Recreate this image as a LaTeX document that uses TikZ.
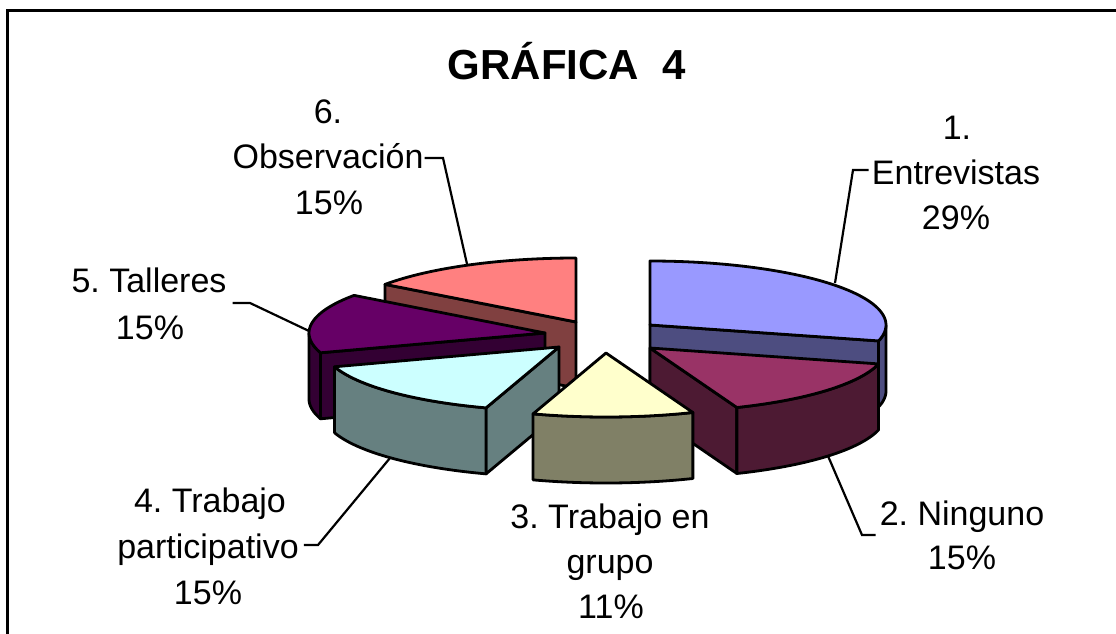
\documentclass[tikz,border=0pt]{standalone}
\usepackage{fontspec}
\setmainfont{Liberation Sans}
\usetikzlibrary{calc}
\frenchspacing
\definecolor{blueTop}{HTML}{9999FF}
\definecolor{blueSide}{HTML}{4D4D80}
\definecolor{marTop}{HTML}{993366}
\definecolor{marSide}{HTML}{4D1A33}
\definecolor{yelTop}{HTML}{FFFFCC}
\definecolor{yelSide}{HTML}{808066}
\definecolor{tealTop}{HTML}{CCFFFF}
\definecolor{tealSide}{HTML}{668080}
\definecolor{purTop}{HTML}{660066}
\definecolor{purSide}{HTML}{330033}
\definecolor{salTop}{HTML}{FF8080}
\definecolor{salSide}{HTML}{804040}
\def\RX{236}\def\RY{64}\def\DP{66}
% radial (cut) face: cx cy angle colour
\newcommand{\radface}[4]{%
  \filldraw[pieline, fill=#4] ({#1},{#2}) -- ({#1+\RX*cos(#3)},{#2-\RY*sin(#3)})
    -- ({#1+\RX*cos(#3)},{#2-\RY*sin(#3)+\DP}) -- ({#1},{#2+\DP}) -- cycle;}
% outer rim face: cx cy from to colour
\newcommand{\rimface}[5]{%
  \filldraw[pieline, fill=#5] plot[domain=#3:#4, samples=40] ({#1+\RX*cos(\x)},{#2-\RY*sin(\x)})
    -- plot[domain=#4:#3, samples=40] ({#1+\RX*cos(\x)},{#2-\RY*sin(\x)+\DP}) -- cycle;}
% top face: cx cy from to colour
\newcommand{\topface}[5]{%
  \filldraw[pieline, fill=#5] ({#1},{#2}) -- plot[domain=#3:#4, samples=60] ({#1+\RX*cos(\x)},{#2-\RY*sin(\x)}) -- cycle;}
\tikzset{
  pieline/.style={line width=2.8pt, line join=round, draw=black},
  lbl/.style={font=\fontsize{34}{40}\selectfont, inner sep=1pt, anchor=base},
  leader/.style={line width=2.2pt, draw=black},
  frameline/.style={line width=3pt, draw=black}
}
\begin{document}
\begin{tikzpicture}[x=1pt, y=-1pt]
\useasboundingbox (0,0) rectangle (1116,634);
% frame
\draw[frameline] (7,634) -- (7,10.5) -- (1116,10.5);
% title
\node[font=\bfseries\fontsize{42}{48}\selectfont, anchor=base, inner sep=0pt] (title) at (567,80) {GRÁFICA\ \ 4};
% 6. Observacion (salmon)
\radface{576}{322}{144}{salSide}
\topface{576}{322}{90}{144}{salTop}
% 1. Entrevistas (blue)
\radface{650}{325}{-14.4}{blueSide}
\rimface{650}{325}{-14.4}{0}{blueSide}
\topface{650}{325}{-14.4}{90}{blueTop}
% 5. Talleres (purple)
\radface{545}{333}{198}{purSide}
\rimface{545}{333}{180}{198}{purSide}
\topface{545}{333}{144}{198}{purTop}
% 2. Ninguno (maroon)
\radface{650}{348}{-68.4}{marSide}
\rimface{650}{348}{-68.4}{-14.4}{marSide}
\topface{650}{348}{-68.4}{-14.4}{marTop}
% 4. Trabajo participativo (teal)
\radface{559}{347}{-108}{tealSide}
\rimface{559}{347}{-162}{-108}{tealSide}
\topface{559}{347}{-162}{-108}{tealTop}
% 3. Trabajo en grupo (yellow)
\rimface{606}{353}{-108}{-68.4}{yelSide}
\topface{606}{353}{-108}{-68.4}{yelTop}
% labels
\node[lbl] (l6a) at (328,123) {6.};
\node[lbl] (l6b) at (328,168) {Observación};
\node[lbl] (l6c) at (329,214) {15\%};
\node[lbl] (l1a) at (957,139) {1.};
\node[lbl] (l1b) at (956,184) {Entrevistas};
\node[lbl] (l1c) at (956,229) {29\%};
\node[lbl] (l5a) at (149,292) {5. Talleres};
\node[lbl] (l5b) at (150,339) {15\%};
\node[lbl] (l4a) at (210,512) {4. Trabajo};
\node[lbl] (l4b) at (208,558) {participativo};
\node[lbl] (l4c) at (208,604) {15\%};
\node[lbl] (l3a) at (610,528) {3. Trabajo en};
\node[lbl] (l3b) at (610,573) {grupo};
\node[lbl] (l3c) at (611,618) {11\%};
\node[lbl] (l2a) at (962,525) {2. Ninguno};
\node[lbl] (l2b) at (962,569) {15\%};
% leader lines
\coordinate (p6) at (467,264); \coordinate (k6) at (443,158);
\draw[leader] (p6) -- (k6) -- (l6b.east |- k6);
\coordinate (p1) at (835,283); \coordinate (k1) at (853,170);
\draw[leader] (p1) -- (k1) -- ($(l1b.west |- k1)+(-2,0)$);
\coordinate (p5) at (309,331); \coordinate (k5) at (250,303);
\draw[leader] (p5) -- (k5) -- ($(l5a.east |- k5)+(5,0)$);
\coordinate (p4) at (390,458); \coordinate (k4) at (318,545);
\draw[leader] (p4) -- (k4) -- ($(l4b.east |- k4)+(4,0)$);
\coordinate (p2) at (828,456); \coordinate (k2) at (862,535);
\draw[leader] (p2) -- (k2) -- ($(l2a.west |- k2)+(-3,0)$);
\end{tikzpicture}
\end{document}
